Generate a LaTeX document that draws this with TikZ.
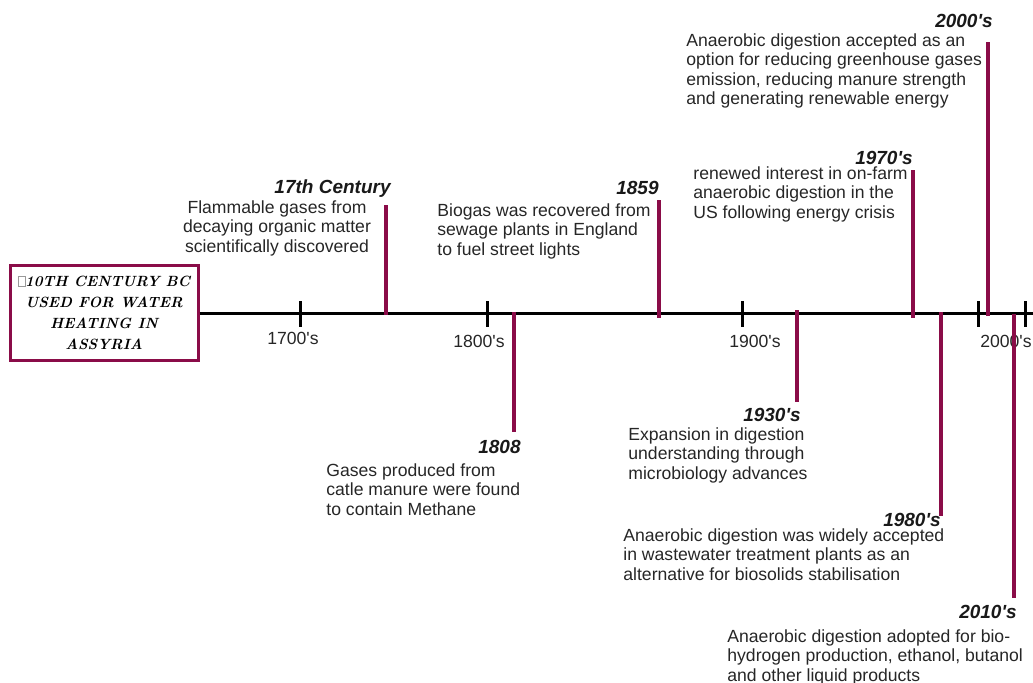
\documentclass[tikz,border=0pt]{standalone}
\usepackage{fontspec}
\setsansfont{Liberation Sans}[Ligatures=TeXOff]

\begin{document}
\begin{tikzpicture}[x = 0.5pt, y = -0.5pt, font=\sffamily]
	\definecolor{barColor}{RGB}{138,12,72}
	\tikzstyle{yearStyle} = [inner sep = 0pt, font = \fontsize{9.5}{11}\sffamily\bfseries\itshape, text = black!90]
	\tikzstyle{noteStyle} = [inner sep = 0pt, align = left, font = \fontsize{8.8}{9.75}\sffamily, text = black!85]
	\tikzstyle{decadeStyle} = [inner sep = 0pt, font = \fontsize{8.8}{10}\sffamily, text = black!85]
	\tikzstyle{barStyle} = [draw = barColor, line width = 2pt]
	\tikzstyle{tickStyle} = [draw, line width = 1.5pt]
	\tikzstyle{boxStyle} = [draw = barColor, line width = 1.5pt, minimum width = 94pt, minimum height = 47.5pt, inner sep = 0pt, align = center, font = \fontsize{7.4}{10.5}\rmfamily\bfseries\itshape]
	\useasboundingbox (0,0) rectangle (1033,682);
	% start box and axis
	\node[boxStyle] (assyria) at (104,312.5) {{\color{black!40}\fboxsep=0pt\fboxrule=0.3pt\fbox{\vphantom{I}\hspace{3pt}}}10TH CENTURY BC\\USED FOR WATER\\HEATING IN\\ASSYRIA};
	\coordinate (axisEnd) at (1033,313);
	\draw[line width = 1.5pt] (assyria.east |- axisEnd) -- (axisEnd);
	\foreach \x/\lab/\lx/\ly in {300/1700's/293/338, 487/1800's/479/341, 742/1900's/755/341, 978/2000's/1006/341}{
		\draw[tickStyle] (\x,301) -- (\x,327);
		\node[decadeStyle] (dec\x) at (\lx,\ly) {\lab};
	}
	\draw[tickStyle] (1025,301) -- (1025,327);
	% bars
	\foreach \n/\x/\ya/\yb in {c17/386/205/315, c1808/514/312/432, c1859/659/200/318, c1930/797/310/402, c1970/913/170/318, c1980/941/312/516, c2000/988/42/316, c2010/1014/314/598}{
		\coordinate (\n a) at (\x,\ya);
		\coordinate (\n b) at (\x,\yb);
		\draw[barStyle] (\n a) -- (\n b);
	}
	% events above the axis
	\node[yearStyle, anchor = east] (y17) at (391,189) {17th Century};
	\node[noteStyle, align = center, anchor = north] (n17) at (277,200) {Flammable gases from\\decaying organic matter\\scientifically discovered};
	\node[yearStyle, anchor = east] (y1859) at (659,188) {1859};
	\node[noteStyle, anchor = north west] (n1859) at (437,203) {Biogas was recovered from\\sewage plants in England\\to fuel street lights};
	\node[yearStyle, anchor = east] (y1970) at (913,158) {1970's};
	\node[noteStyle, anchor = north west] (n1970) at (693,166) {renewed interest in on-farm\\anaerobic digestion in the\\US following energy crisis};
	\node[yearStyle, anchor = east] (y2000) at (993,21) {2000's};
	\node[noteStyle, anchor = north west] (n2000) at (686,33) {Anaerobic digestion accepted as an\\option for reducing greenhouse gases\\emission, reducing manure strength\\and generating renewable energy};
	% events below the axis
	\node[yearStyle, anchor = east] (y1808) at (521,447) {1808};
	\node[noteStyle, anchor = north west] (n1808) at (326,463) {Gases produced from\\catle manure were found\\to contain Methane};
	\node[yearStyle, anchor = east] (y1930) at (801,415) {1930's};
	\node[noteStyle, anchor = north west] (n1930) at (628,427) {Expansion in digestion\\understanding through\\microbiology advances};
	\node[yearStyle, anchor = east] (y1980) at (941,520) {1980's};
	\node[noteStyle, anchor = north west] (n1980) at (623,528) {Anaerobic digestion was widely accepted\\in wastewater treatment plants as an\\alternative for biosolids stabilisation};
	\node[yearStyle, anchor = east] (y2010) at (1017,612) {2010's};
	\node[noteStyle, anchor = north west] (n2010) at (727,629) {Anaerobic digestion adopted for bio-\\hydrogen production, ethanol, butanol\\and other liquid products};
\end{tikzpicture}
\end{document}
